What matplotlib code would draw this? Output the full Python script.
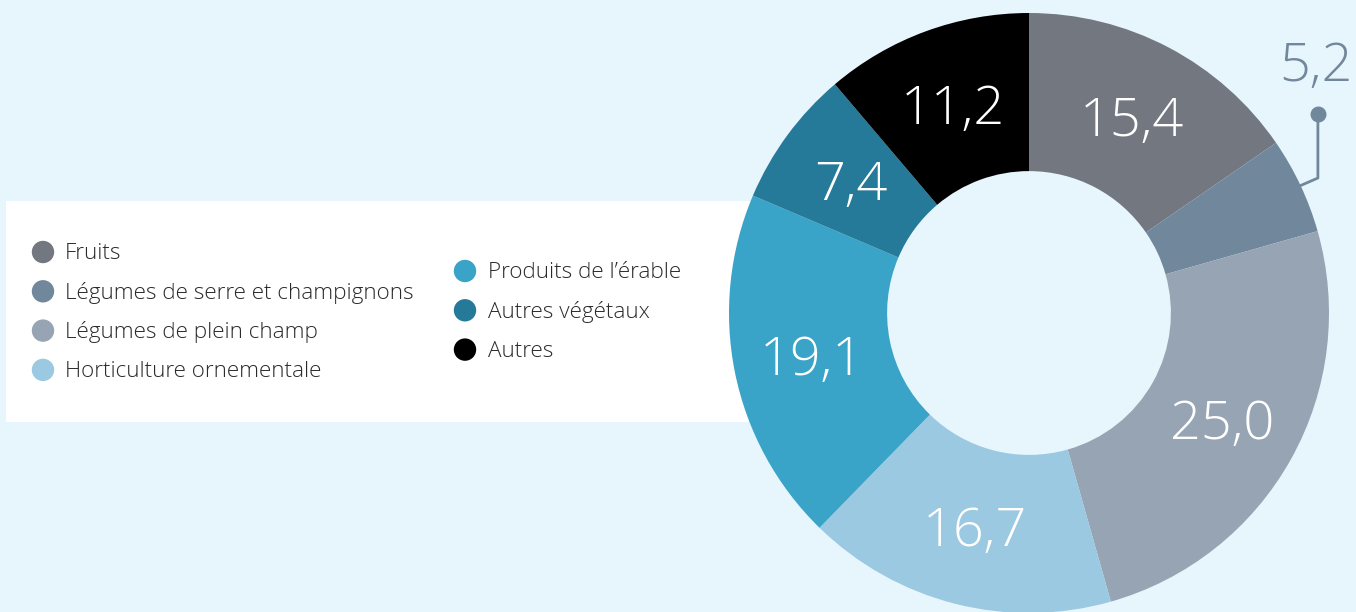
import numpy as np
import matplotlib
matplotlib.use("Agg")
import matplotlib.pyplot as plt
from matplotlib.patches import Rectangle

categories = ["Fruits", "Légumes de serre et champignons", "Légumes de plein champ",
              "Horticulture ornementale", "Produits de l’érable", "Autres végétaux", "Autres"]
values = [15.4, 5.2, 25.0, 16.7, 19.1, 7.4, 11.2]
labels = ["15,4", "5,2", "25,0", "16,7", "19,1", "7,4", "11,2"]
colors = ["#737780", "#71889c", "#97a4b3", "#9bc9e1", "#3aa3c8", "#267a99", "#000000"]

BG = "#e7f5fd"
W, H = 1356, 612

plt.rcParams["font.family"] = ["Open Sans", "DejaVu Sans"]

fig = plt.figure(figsize=(W / 100, H / 100), dpi=100, facecolor=BG)

# overlay in pixel coordinates for the legend panel
ax_leg = fig.add_axes([0, 0, 1, 1], zorder=0)
ax_leg.set_xlim(0, W)
ax_leg.set_ylim(H, 0)
ax_leg.axis("off")
ax_leg.add_patch(Rectangle((6, 201), 745, 221, facecolor="white", edgecolor="none"))

for row, i in enumerate(range(0, 4)):
    y = 252 + row * 39.3
    ax_leg.scatter([43], [y], s=260, color=colors[i], edgecolors="none")
    ax_leg.text(65, y + 1.5, categories[i], fontsize=16.2, fontweight="light", color="#2a2a2a",
                va="center", ha="left")
for row, i in enumerate(range(4, 7)):
    y = 271 + row * 39.3
    ax_leg.scatter([465], [y], s=260, color=colors[i], edgecolors="none")
    ax_leg.text(488, y + 1.5, categories[i], fontsize=16.2, fontweight="light", color="#2a2a2a",
                va="center", ha="left")

# donut, centre at (1029, 313) px, radius 300 px
cx, cy, R = 1029, 313, 300
ax = fig.add_axes([(cx - R) / W, (H - cy - R) / H, 2 * R / W, 2 * R / H], zorder=1)
ax.patch.set_alpha(0)
wedges, _ = ax.pie(values, colors=colors, startangle=90, counterclock=False,
                   radius=1, wedgeprops=dict(width=0.527, edgecolor="none"))
ax.set_xlim(-1, 1)
ax.set_ylim(-1, 1)
ax.set_aspect("equal")
ax.axis("off")

r_lab = 0.737
for i, w in enumerate(wedges):
    ang = np.deg2rad((w.theta1 + w.theta2) / 2)
    x, y = r_lab * np.cos(ang), r_lab * np.sin(ang) - 0.015
    if labels[i] == "5,2":
        # small slice: label outside with leader line
        xe, ye = 0.965 * np.cos(ang), 0.965 * np.sin(ang)
        ax.plot([xe, 0.963, 0.963], [ye, 0.45, 0.665], color=colors[i], lw=2,
                clip_on=False, solid_capstyle="butt")
        ax.scatter([0.963], [0.665], s=110, color=colors[i], zorder=5, clip_on=False)
        ax.text(0.955, 0.82, labels[i], fontsize=39, fontweight="light", color=colors[i],
                ha="center", va="center", clip_on=False)
        continue
    ax.text(x, y, labels[i], fontsize=39, fontweight="light", color="white",
            ha="center", va="center")

fig.savefig("out.png", dpi=100, facecolor=BG)
